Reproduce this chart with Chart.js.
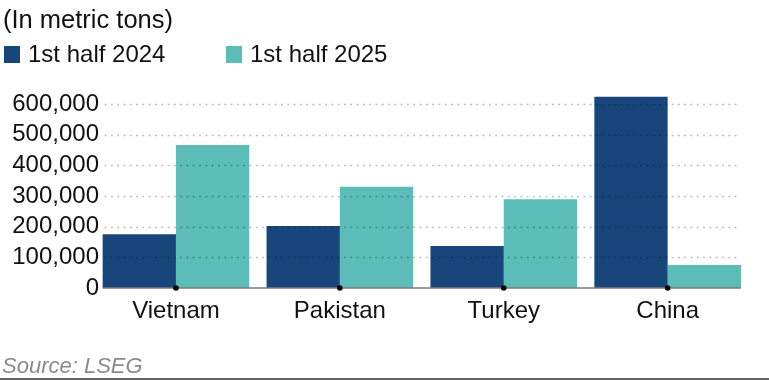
<!DOCTYPE html>
<html>
<head>
<meta charset="utf-8">
<script src="https://cdn.jsdelivr.net/npm/chart.js@4.4.1/dist/chart.umd.min.js"></script>
<style>
  html, body { margin: 0; padding: 0; background: #fff; }
  body { width: 769px; height: 380px; position: relative; overflow: hidden; font-family: "Liberation Sans", Arial, sans-serif; }
  #wrap { position: absolute; left: 0; top: 0; width: 769px; height: 380px; }
  .txt { position: absolute; white-space: nowrap; line-height: 1; color: #111; }
  #title { left: 3px; top: 7px; font-size: 25.5px; }
  .lg { position: absolute; top: 42px; font-size: 24px; line-height: 1; color: #111; white-space: nowrap; }
  .lg i { position: absolute; top: 4px; width: 16px; height: 17px; }
  #source { left: 2px; top: 354.5px; font-size: 22px; font-style: italic; color: #8a8a8a; }
  #rule { position: absolute; left: 0; top: 378px; width: 769px; height: 2px; background: #666; }
</style>
</head>
<body>
<div id="wrap"><canvas id="c"></canvas></div>
<div class="txt" id="title">(In metric tons)</div>
<div id="legend"></div>
<div class="txt" id="source">Source: LSEG</div>
<div id="rule"></div>
<script>
const categories = ['Vietnam', 'Pakistan', 'Turkey', 'China'];
const seriesNames = ['1st half 2024', '1st half 2025'];
const values2024 = [175000, 202000, 137000, 624000];
const values2025 = [466000, 330000, 289000, 75000];
const yTickValues = [0, 100000, 200000, 300000, 400000, 500000, 600000];
const colors = ['#18467a', '#5bbcb8'];

// HTML legend built from series names/colours
const legendPos = [4, 226];
const legendEl = document.getElementById('legend');
seriesNames.forEach((name, i) => {
  const d = document.createElement('div');
  d.className = 'lg';
  d.style.left = legendPos[i] + 'px';
  d.style.paddingLeft = '24px';
  d.innerHTML = '<i style="left:0;background:' + colors[i] + '"></i>' + name;
  legendEl.appendChild(d);
});

const fmt = v => v.toLocaleString('en-US');

const overlay = {
  id: 'overlay',
  afterDatasetsDraw(chart) {
    const ctx = chart.ctx;
    const xs = chart.scales.x, ys = chart.scales.y;
    const m0 = chart.getDatasetMeta(0), m1 = chart.getDatasetMeta(1);
    const b0 = m0.data[0], bl = m1.data[m1.data.length - 1];
    const x0 = b0.x - b0.width / 2, x1 = bl.x + bl.width / 2;
    ctx.save();
    // dotted gridlines
    ctx.strokeStyle = 'rgba(0,0,0,0.28)';
    ctx.lineWidth = 1.6;
    ctx.setLineDash([1.8, 4.5]);
    yTickValues.forEach(v => {
      if (v === 0) return;
      const y = Math.round(ys.getPixelForValue(v)) + 0.5;
      ctx.beginPath();
      ctx.moveTo(x0 + 2, y);
      ctx.lineTo(x1 - 2, y);
      ctx.stroke();
    });
    ctx.setLineDash([]);
    // baseline
    const yb = ys.getPixelForValue(0);
    ctx.strokeStyle = '#7a7a7a';
    ctx.lineWidth = 1.6;
    ctx.beginPath();
    ctx.moveTo(x0, yb);
    ctx.lineTo(x1, yb);
    ctx.stroke();
    // tick dots
    ctx.fillStyle = '#000';
    categories.forEach((c, i) => {
      ctx.beginPath();
      ctx.arc(xs.getPixelForValue(i), yb, 2.8, 0, Math.PI * 2);
      ctx.fill();
    });
    ctx.restore();
  }
};

new Chart(document.getElementById('c'), {
  type: 'bar',
  data: {
    labels: categories,
    datasets: [
      { label: seriesNames[0], data: values2024, backgroundColor: colors[0], borderWidth: 0 },
      { label: seriesNames[1], data: values2025, backgroundColor: colors[1], borderWidth: 0 }
    ]
  },
  options: {
    responsive: true,
    maintainAspectRatio: false,
    animation: false,
    devicePixelRatio: 1,
    layout: { padding: { top: 88.67, right: 19.4, left: 0, bottom: 0 } },
    datasets: { bar: { barPercentage: 1, categoryPercentage: 0.8945 } },
    plugins: { legend: { display: false }, tooltip: { enabled: false }, title: { display: false } },
    scales: {
      x: {
        grid: { display: false, drawTicks: false },
        border: { display: false },
        ticks: { padding: 9, color: '#111', font: { family: '"Liberation Sans", Arial, sans-serif', size: 24 } },
        afterFit(scale) { scale.height = 92; }
      },
      y: {
        min: 0,
        max: 650000,
        grid: { display: false, drawTicks: false },
        border: { display: false },
        afterBuildTicks(scale) { scale.ticks = yTickValues.map(v => ({ value: v })); },
        ticks: {
          padding: -5,
          color: '#111',
          font: { family: '"Liberation Sans", Arial, sans-serif', size: 24 },
          callback: v => fmt(v)
        },
        afterFit(scale) {
          scale.width = 94;
          // let the right-aligned tick labels reach slightly into the plot margin
          scale._computeLabelArea = function () { return undefined; };
        }
      }
    }
  },
  plugins: [overlay]
});
</script>
</body>
</html>
